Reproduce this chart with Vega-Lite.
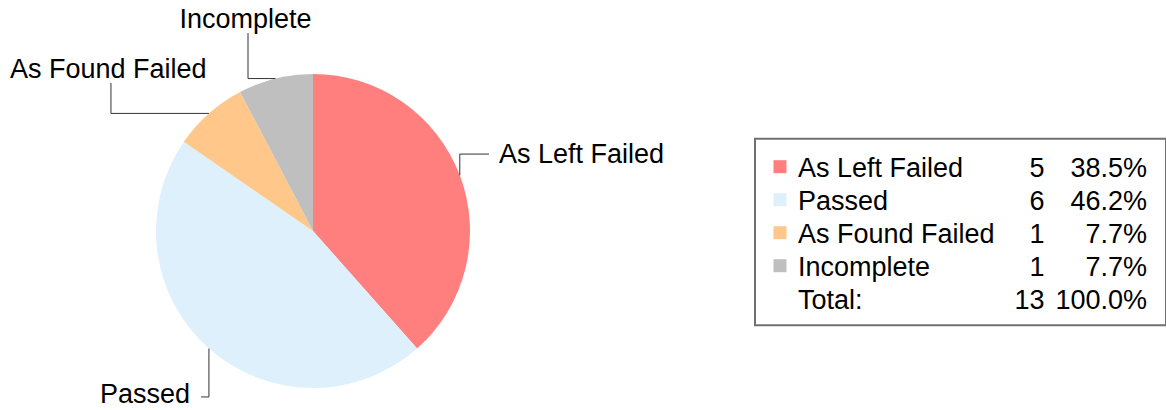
{
  "$schema": "https://vega.github.io/schema/vega-lite/v6.json",
  "padding": 0,
  "background": "white",
  "spacing": 54,
  "config": {
    "view": {"stroke": null},
    "text": {"font": "Liberation Sans", "fontSize": 27, "color": "#000000"}
  },
  "datasets": {
    "rows": [
      {"label": "As Left Failed", "count": 5, "pct": "38.5%", "row": 0},
      {"label": "Passed", "count": 6, "pct": "46.2%", "row": 1},
      {"label": "As Found Failed", "count": 1, "pct": "7.7%", "row": 2},
      {"label": "Incomplete", "count": 1, "pct": "7.7%", "row": 3},
      {"label": "Total:", "count": 13, "pct": "100.0%", "row": 4}
    ],
    "leaders": [
      {"label": "As Left Failed", "pt": 0, "x": 0.935, "y": 0.355},
      {"label": "As Left Failed", "pt": 1, "x": 0.935, "y": 0.49},
      {"label": "As Left Failed", "pt": 2, "x": 1.121, "y": 0.49},
      {"label": "Passed", "pt": 0, "x": -0.663, "y": -0.749},
      {"label": "Passed", "pt": 1, "x": -0.663, "y": -1.057},
      {"label": "Passed", "pt": 2, "x": -0.713, "y": -1.057},
      {"label": "As Found Failed", "pt": 0, "x": -0.663, "y": 0.749},
      {"label": "As Found Failed", "pt": 1, "x": -1.287, "y": 0.749},
      {"label": "As Found Failed", "pt": 2, "x": -1.287, "y": 0.943},
      {"label": "Incomplete", "pt": 0, "x": -0.239, "y": 0.971},
      {"label": "Incomplete", "pt": 1, "x": -0.414, "y": 0.971},
      {"label": "Incomplete", "pt": 2, "x": -0.414, "y": 1.261}
    ],
    "pielabels": [
      {"label": "As Left Failed", "x": 1.185, "y": 0.431},
      {"label": "Passed", "x": -1.357, "y": -1.096},
      {"label": "As Found Failed", "x": -1.93, "y": 0.975},
      {"label": "Incomplete", "x": -0.85, "y": 1.293}
    ],
    "box": [{"x": 0, "x2": 100, "y": -1.15, "y2": 4.5}]
  },
  "hconcat": [
    {
      "width": 700,
      "height": 410,
      "layer": [
        {
          "data": {"name": "rows"},
          "transform": [{"filter": "datum.row < 4"}],
          "mark": {"type": "arc", "radius": 157, "strokeWidth": 0},
          "encoding": {
            "x": {"datum": 0, "type": "quantitative", "scale": {"domain": [-1.99363, 2.46497], "nice": false, "zero": false}, "axis": null},
            "y": {"datum": 0, "type": "quantitative", "scale": {"domain": [-1.14013, 1.47134], "nice": false, "zero": false}, "axis": null},
            "theta": {"field": "count", "type": "quantitative", "stack": true},
            "order": {"field": "row", "type": "quantitative"},
            "color": {
              "field": "label", "type": "nominal",
              "scale": {"domain": ["As Left Failed", "Passed", "As Found Failed", "Incomplete"], "range": ["#FF7F7F", "#DEF0FC", "#FFC78A", "#BFBFBF"]},
              "legend": null
            }
          }
        },
        {
          "data": {"name": "leaders"},
          "mark": {"type": "line", "color": "#333333", "strokeWidth": 1},
          "encoding": {
            "x": {"field": "x", "type": "quantitative", "scale": {"domain": [-1.99363, 2.46497], "nice": false, "zero": false}, "axis": null},
            "y": {"field": "y", "type": "quantitative", "scale": {"domain": [-1.14013, 1.47134], "nice": false, "zero": false}, "axis": null},
            "detail": {"field": "label", "type": "nominal"},
            "order": {"field": "pt", "type": "quantitative"}
          }
        },
        {
          "data": {"name": "pielabels"},
          "mark": {"type": "text", "align": "left", "baseline": "alphabetic"},
          "encoding": {
            "x": {"field": "x", "type": "quantitative", "scale": {"domain": [-1.99363, 2.46497], "nice": false, "zero": false}, "axis": null},
            "y": {"field": "y", "type": "quantitative", "scale": {"domain": [-1.14013, 1.47134], "nice": false, "zero": false}, "axis": null},
            "text": {"field": "label", "type": "nominal"}
          }
        }
      ]
    },
    {
      "width": 411,
      "height": 410,
      "layer": [
        {
          "data": {"name": "box"},
          "mark": {"type": "rect", "fill": "white", "stroke": "#707070", "strokeWidth": 2},
          "encoding": {
            "x": {"field": "x", "type": "quantitative", "scale": {"domain": [0, 100], "nice": false, "zero": false}, "axis": null},
            "x2": {"field": "x2"},
            "y": {"field": "y", "type": "quantitative", "scale": {"domain": [-5.355, 7.07], "nice": false, "zero": false, "reverse": true}, "axis": null},
            "y2": {"field": "y2"}
          }
        },
        {
          "data": {"name": "rows"},
          "transform": [{"filter": "datum.row < 4"}],
          "mark": {"type": "point", "shape": "square", "filled": true, "size": 169, "opacity": 1, "yOffset": -10},
          "encoding": {
            "x": {"datum": 6.08, "type": "quantitative"},
            "y": {"field": "row", "type": "quantitative"},
            "color": {
              "field": "label", "type": "nominal",
              "scale": {"domain": ["As Left Failed", "Passed", "As Found Failed", "Incomplete"], "range": ["#FF7F7F", "#DEF0FC", "#FFC78A", "#BFBFBF"]},
              "legend": null
            }
          }
        },
        {
          "data": {"name": "rows"},
          "mark": {"type": "text", "align": "left", "baseline": "alphabetic"},
          "encoding": {
            "x": {"datum": 10.46, "type": "quantitative"},
            "y": {"field": "row", "type": "quantitative"},
            "text": {"field": "label", "type": "nominal"}
          }
        },
        {
          "data": {"name": "rows"},
          "mark": {"type": "text", "align": "right", "baseline": "alphabetic"},
          "encoding": {
            "x": {"datum": 70.43, "type": "quantitative"},
            "y": {"field": "row", "type": "quantitative"},
            "text": {"field": "count", "type": "nominal"}
          }
        },
        {
          "data": {"name": "rows"},
          "mark": {"type": "text", "align": "right", "baseline": "alphabetic"},
          "encoding": {
            "x": {"datum": 95.38, "type": "quantitative"},
            "y": {"field": "row", "type": "quantitative"},
            "text": {"field": "pct", "type": "nominal"}
          }
        }
      ]
    }
  ]
}
